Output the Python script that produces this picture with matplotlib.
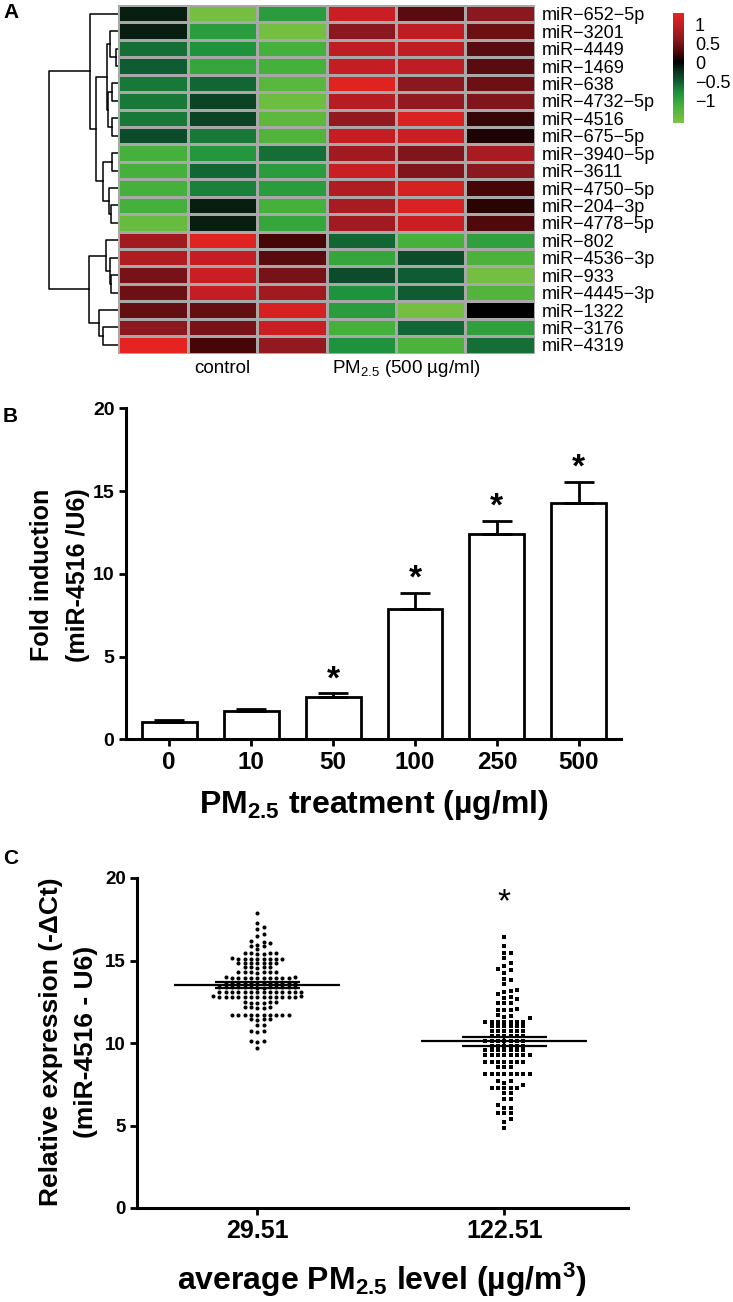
import numpy as np
import matplotlib
matplotlib.use('Agg')
import matplotlib.pyplot as plt
from matplotlib.colors import LinearSegmentedColormap, Normalize
from matplotlib.cm import ScalarMappable

plt.rcParams['font.family'] = ['Liberation Sans', 'DejaVu Sans']
plt.rcParams['mathtext.default'] = 'regular'

# ── data: panel A heatmap ──
mirnas = ['miR−652−5p', 'miR−3201', 'miR−4449', 'miR−1469', 'miR−638',
          'miR−4732−5p', 'miR−4516', 'miR−675−5p', 'miR−3940−5p', 'miR−3611',
          'miR−4750−5p', 'miR−204−3p', 'miR−4778−5p', 'miR−802', 'miR−4536−3p',
          'miR−933', 'miR−4445−3p', 'miR−1322', 'miR−3176', 'miR−4319']
# columns: control x3, PM2.5 x3
heat_vals = [
    [-0.15, -1.50, -0.90, 1.05, 0.35, 0.60],
    [-0.15, -0.90, -1.50, 0.60, 0.95, 0.45],
    [-0.60, -0.80, -1.15, 0.95, 0.95, 0.35],
    [-0.50, -1.00, -1.15, 1.00, 0.95, 0.35],
    [-0.65, -0.55, -1.30, 1.25, 0.60, 0.45],
    [-0.65, -0.35, -1.45, 0.90, 0.65, 0.55],
    [-0.65, -0.35, -1.35, 0.65, 1.20, 0.20],
    [-0.40, -0.65, -1.25, 1.00, 1.05, 0.10],
    [-1.15, -0.85, -0.60, 0.75, 0.55, 0.80],
    [-1.15, -0.55, -0.90, 1.05, 0.55, 0.60],
    [-1.15, -0.70, -0.90, 0.85, 1.15, 0.25],
    [-1.15, -0.15, -1.15, 0.80, 1.20, 0.15],
    [-1.40, -0.15, -1.00, 0.75, 1.05, 0.30],
    [0.75, 1.25, 0.25, -0.55, -1.15, -0.95],
    [0.85, 1.00, 0.35, -1.00, -0.40, -1.20],
    [0.50, 1.05, 0.50, -0.40, -0.50, -1.50],
    [0.45, 1.00, 0.75, -0.80, -0.50, -1.25],
    [0.40, 0.40, 1.15, -0.90, -1.50, 0.00],
    [0.60, 0.50, 1.05, -1.15, -0.55, -0.95],
    [1.30, 0.25, 0.65, -0.80, -1.20, -0.60],
]
group_names = ['control', 'PM$_{2.5}$ (500 µg/ml)']
# row dendrogram merges: (left, right, height); leaves 0..19, nodes 20+
row_tree = [
    (2, 3, 2.0), (1, 20, 8.0), (4, 5, 6.3), (6, 7, 6.3), (22, 23, 10.3),
    (21, 24, 11.3), (8, 9, 6.3), (11, 12, 7.3), (10, 27, 9.0), (26, 28, 15.3),
    (25, 29, 22.0), (0, 30, 28.0), (15, 16, 7.0), (14, 32, 8.7), (13, 33, 12.3),
    (18, 19, 15.3), (17, 35, 19.7), (34, 36, 29.0), (31, 37, 69.0),
]
cbar_ticks = [1, 0.5, 0, -0.5, -1]
cbar_labels = ['1', '0.5', '0', '−0.5', '−1']

# ── data: panel B ──
doses = ['0', '10', '50', '100', '250', '500']
fold_mean = [1.05, 1.70, 2.55, 7.90, 12.40, 14.30]
fold_sem = [0.10, 0.13, 0.25, 0.97, 0.80, 1.27]
fold_sig = [False, False, True, True, True, True]

# ── data: panel C ──
pm_levels = ['29.51', '122.51']
expr_low = [
    17.9,
    17.25, 17.02, 16.88,
    16.62, 16.48,
    16.18, 16.05, 15.95, 15.85, 16.10, 15.90,
    15.68, 15.44, 15.42, 15.45, 15.43, 15.41, 15.47,
    15.12, 15.10, 15.11, 15.09, 15.13, 15.10, 15.08, 15.11, 15.12,
    14.85, 14.84, 14.86, 14.83, 14.85, 14.84, 14.86,
    14.58, 14.57, 14.59, 14.58, 14.60,
    14.30, 14.28, 14.31, 14.29, 14.32, 14.30, 14.27,
    13.96, 13.95, 13.94, 13.97, 13.95, 13.93, 13.96, 13.94, 13.95, 13.97, 13.93, 13.95,
    13.64, 13.62, 13.63, 13.61, 13.65, 13.62, 13.63, 13.64, 13.60, 13.62, 13.63, 13.61,
    13.38, 13.37, 13.39, 13.36, 13.38, 13.40, 13.37, 13.39, 13.38, 13.36, 13.38, 13.37, 13.39,
    13.10, 13.09, 13.11, 13.10, 13.08, 13.12, 13.10, 13.09, 13.11, 13.10, 13.08, 13.12, 13.10, 13.09,
    12.80, 12.79, 12.81, 12.80, 12.78, 12.82, 12.80, 12.79, 12.81, 12.80, 12.78, 12.82, 12.80, 12.79, 12.81,
    12.46, 12.45, 12.47, 12.44, 12.46, 12.45,
    12.16, 12.15, 12.17, 12.16, 12.15,
    11.72, 11.70, 11.71, 11.69, 11.72, 11.70, 11.68, 11.71, 11.70, 11.69,
    11.43, 11.42, 11.44, 11.43,
    11.10, 11.08,
    10.72, 10.68, 10.70,
    10.12, 10.08, 10.10,
    9.68,
]
expr_high = [
    16.40,
    15.88,
    15.43, 15.43,
    15.13,
    14.87,
    14.67, 14.46, 14.42,
    14.22,
    13.86, 13.82,
    13.58,
    13.21, 13.07, 12.97, 13.17,
    12.77, 12.65, 12.75,
    12.44, 12.40, 12.44,
    12.06, 12.00, 12.00, 12.00,
    11.66, 11.70, 11.60,
    11.50,
    11.30, 11.30, 11.30, 11.30, 11.30, 11.30, 11.30,
    11.02, 11.02, 11.02, 11.02, 11.02, 11.02,
    10.74, 10.74, 10.74, 10.74, 10.74, 10.74,
    10.44, 10.44, 10.44, 10.44, 10.44, 10.44,
    10.14, 10.14, 10.14, 10.14, 10.14, 10.14, 10.14,
    9.84, 9.84, 9.84, 9.84, 9.84, 9.84,
    9.55, 9.55, 9.55, 9.55, 9.55, 9.55, 9.55,
    9.26, 9.26, 9.26, 9.26, 9.26, 9.26, 9.26, 9.26,
    8.87, 8.87, 8.87, 8.87, 8.87, 8.87, 8.87, 8.57, 8.57, 8.57,
    8.12, 8.12, 8.12, 8.12, 8.12, 8.12, 8.12, 8.12,
    7.72, 7.72, 7.60, 7.45,
    7.25, 7.25, 7.25, 7.25, 7.25,
    6.97, 6.97,
    6.60, 6.60,
    6.24, 6.04, 6.04,
    5.74, 5.74, 5.74,
    5.37, 5.23,
    4.87,
]
expr_mean = [13.5, 10.1]
expr_sem = [0.17, 0.26]
expr_sig = [False, True]

# ── layout helpers (pixel boxes measured from top-left) ──
W, H = 733, 1302
fig = plt.figure(figsize=(W / 100, H / 100), dpi=100)


def box(x0, y0, x1, y1):
    return [x0 / W, 1 - y1 / H, (x1 - x0) / W, (y1 - y0) / H]


# ── panel A: heatmap ──
cmap = LinearSegmentedColormap.from_list('gbr', [
    (0.0, '#80c342'), (0.17, '#3fae3b'), (0.276, '#1f923e'), (0.379, '#0f5c32'),
    (0.483, '#0a2a18'), (0.552, '#000000'), (0.638, '#450608'), (0.759, '#8a181e'),
    (0.897, '#c41e24'), (1.0, '#e52421')])
norm = Normalize(vmin=-1.6, vmax=1.3)
data = np.array(heat_vals)
n_rows, n_cols = data.shape

axH = fig.add_axes(box(118.3, 5, 534.7, 353.6))
axH.pcolormesh(np.arange(n_cols + 1), np.arange(n_rows + 1), data, cmap=cmap, norm=norm,
               edgecolors='#a8a8a8', linewidth=0.8)
axH.set_xlim(0, n_cols)
axH.set_ylim(n_rows, 0)
for s in axH.spines.values():
    s.set_visible(False)
axH.yaxis.tick_right()
axH.set_yticks(np.arange(n_rows) + 0.5)
axH.set_yticklabels(mirnas, fontsize=13)
axH.tick_params(axis='y', length=0, pad=5)
axH.set_xticks([])
axH.text(1.5, n_rows + 0.83, group_names[0], ha='center', va='center', fontsize=13.5)
axH.text(4.15, n_rows + 0.83, group_names[1], ha='center', va='center', fontsize=13.5)

# dendrogram
axD = fig.add_axes(box(38, 5, 118.3, 353.6))
pos = {i: i + 0.5 for i in range(n_rows)}
hgt = {i: 0.0 for i in range(n_rows)}
for k, (a, b, h) in enumerate(row_tree):
    axD.plot([hgt[a], h, h, hgt[b]], [pos[a], pos[a], pos[b], pos[b]], color='black', lw=1.1)
    pos[n_rows + k] = (pos[a] + pos[b]) / 2
    hgt[n_rows + k] = h
axD.set_xlim(80.3, 0)
axD.set_ylim(n_rows, 0)
axD.axis('off')

# colour key
cax = fig.add_axes(box(673, 13, 684, 123))
cb = fig.colorbar(ScalarMappable(norm=norm, cmap=cmap), cax=cax, ticks=cbar_ticks)
cb.set_ticklabels(cbar_labels)
cb.outline.set_visible(False)
cax.tick_params(length=0, labelsize=13, pad=8)

# ── panel B: bar chart ──
axB = fig.add_axes(box(125.5, 408.3, 621.4, 739.5))
xb = np.arange(len(doses))
axB.bar(xb, fold_mean, width=0.67, color='white', edgecolor='black', linewidth=2.0, zorder=2)
axB.errorbar(xb, fold_mean, yerr=[np.zeros(len(doses)), fold_sem], fmt='none',
             ecolor='black', elinewidth=2.0, capsize=11, capthick=2.0, zorder=3)
for i, sig in enumerate(fold_sig):
    if sig:
        axB.annotate('*', xy=(xb[i], fold_mean[i] + fold_sem[i]), xytext=(0, 3.5),
                     textcoords='offset points', ha='center', va='baseline',
                     fontsize=24, fontweight='bold')
axB.set_xlim(-0.534, 5.52)
axB.set_ylim(0, 20)
axB.set_xticks(xb)
axB.set_xticklabels(doses, fontsize=17.5, fontweight='bold')
axB.set_yticks([0, 5, 10, 15, 20])
axB.set_yticklabels(['0', '5', '10', '15', '20'], fontsize=14, fontweight='bold')
axB.spines['top'].set_visible(False)
axB.spines['right'].set_visible(False)
axB.spines['left'].set_linewidth(2.2)
axB.spines['bottom'].set_linewidth(2.2)
axB.tick_params(width=2.0, length=5, pad=3)

fig.text(42 / W, 1 - 575 / H, 'Fold induction', rotation=90, ha='center', va='center',
         fontsize=18, fontweight='bold')
fig.text(78 / W, 1 - 575 / H, '(miR-4516 /U6)', rotation=90, ha='center', va='center',
         fontsize=18, fontweight='bold')
fig.text(374 / W, 1 - 813 / H, 'PM$_{2.5}$ treatment (µg/ml)', ha='center', va='baseline',
         fontsize=23, fontweight='bold')

# ── panel C: dot plot ──
axC = fig.add_axes(box(137.2, 878, 628.4, 1208))
axC.set_xlim(-0.486, 1.502)
axC.set_ylim(0, 20)


def swarm_x(ax, center, values, dx_px, dy_px):
    tr = ax.transData
    vals = np.asarray(values, dtype=float)
    pts = tr.transform(np.column_stack([np.full(len(vals), center), vals]))
    cx, ys = pts[0, 0], pts[:, 1]
    placed = []
    xoff = np.zeros(len(vals))
    for i in np.argsort(ys):
        for k in range(80):
            off = ((k + 1) // 2) * dx_px * (1 if k % 2 else -1)
            if all(abs(off - px) >= dx_px - 1e-6 or abs(ys[i] - py) >= dy_px
                   for px, py in placed):
                break
        placed.append((off, ys[i]))
        xoff[i] = off
    return tr.inverted().transform(np.column_stack([cx + xoff, ys]))[:, 0]


groups = [expr_low, expr_high]
markers = [('o', 8.5, 3.8), ('s', 11.5, 4.5)]
for i, vals in enumerate(groups):
    m, s, dy = markers[i]
    xs = swarm_x(axC, i, vals, 6.3, dy)
    axC.scatter(xs, vals, marker=m, s=s, color='black', linewidths=0, zorder=2)
    axC.hlines(expr_mean[i], i - 0.336, i + 0.336, color='black', lw=1.6, zorder=3)
    axC.hlines([expr_mean[i] - expr_sem[i], expr_mean[i] + expr_sem[i]], i - 0.172, i + 0.172,
               color='black', lw=1.6, zorder=3)
    axC.vlines(i, expr_mean[i] - expr_sem[i], expr_mean[i] + expr_sem[i], color='black',
               lw=1.6, zorder=3)
    if expr_sig[i]:
        axC.annotate('*', xy=(i, 19.1), xytext=(0, -13), textcoords='offset points',
                     ha='center', va='baseline', fontsize=24)

axC.set_xticks([0, 1])
axC.set_xticklabels(pm_levels, fontsize=18, fontweight='bold')
axC.set_yticks([0, 5, 10, 15, 20])
axC.set_yticklabels(['0', '5', '10', '15', '20'], fontsize=13.5, fontweight='bold')
axC.spines['top'].set_visible(False)
axC.spines['right'].set_visible(False)
axC.spines['left'].set_linewidth(2.2)
axC.spines['bottom'].set_linewidth(2.2)
axC.tick_params(width=2.0, length=5, pad=3)

fig.text(51 / W, 1 - 1042 / H, 'Relative expression (-ΔCt)', rotation=90, ha='center',
         va='center', fontsize=19, fontweight='bold')
fig.text(86 / W, 1 - 1042 / H, '(miR-4516 - U6)', rotation=90, ha='center', va='center',
         fontsize=19, fontweight='bold')
fig.text(382 / W, 1 - 1290 / H, 'average PM$_{2.5}$ level (µg/m$^{3}$)', ha='center',
         va='baseline', fontsize=23, fontweight='bold')

# panel letters
fig.text(3 / W, 1 - 12.5 / H, 'A', ha='left', va='center', fontsize=15, fontweight='bold')
fig.text(3 / W, 1 - 417 / H, 'B', ha='left', va='center', fontsize=15, fontweight='bold')
fig.text(3 / W, 1 - 859 / H, 'C', ha='left', va='center', fontsize=15, fontweight='bold')

fig.savefig('out.png', dpi=100, facecolor='white')
